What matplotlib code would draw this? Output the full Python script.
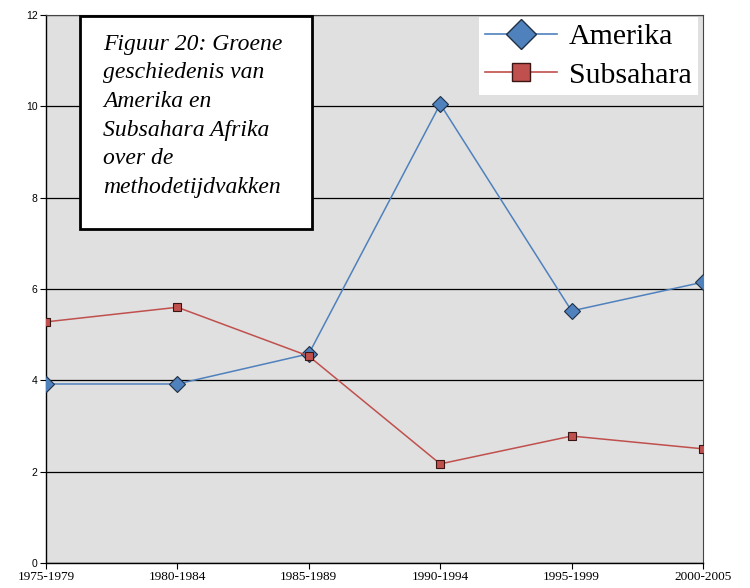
import matplotlib.pyplot as plt
from matplotlib.lines import Line2D
from matplotlib.patches import Rectangle

periods = ["1975-1979", "1980-1984", "1985-1989", "1990-1994", "1995-1999", "2000-2005"]
amerika = [3.92, 3.92, 4.58, 10.05, 5.52, 6.15]
subsahara = [5.28, 5.6, 4.53, 2.17, 2.78, 2.5]
y_ticks = [0, 2, 4, 6, 8, 10, 12]

BLUE = "#4f81bd"
RED = "#c0504d"
SERIF = ["Liberation Serif", "DejaVu Serif"]

fig = plt.figure(figsize=(7.5, 5.88), dpi=100)
ax = fig.add_axes([46 / 750, 25 / 588, 657 / 750, 548 / 588])
ax.set_facecolor("#e0e0e0")

x = list(range(len(periods)))
ax.plot(x, amerika, color=BLUE, linewidth=1.1, marker="D", markersize=8,
        markerfacecolor=BLUE, markeredgecolor="#1f2f45", markeredgewidth=0.8, zorder=3)
ax.plot(x, subsahara, color=RED, linewidth=1.1, marker="s", markersize=6.3,
        markerfacecolor=RED, markeredgecolor="#3a1514", markeredgewidth=0.8, zorder=3)

ax.set_xlim(0, len(periods) - 1)
ax.set_ylim(0, 12)
ax.set_yticks(y_ticks)
ax.set_yticklabels([str(v) for v in y_ticks], fontsize=7.5, family="Liberation Sans")
ax.set_xticks(x)
ax.set_xticklabels(periods, fontsize=9.5, family=SERIF)
ax.tick_params(axis="both", direction="out", length=4, width=0.8, pad=2)
ax.yaxis.grid(True, color="black", linewidth=0.9)
ax.set_axisbelow(True)
for side in ["top", "right"]:
    ax.spines[side].set_color("#444444")
    ax.spines[side].set_linewidth(0.8)
for side in ["left", "bottom"]:
    ax.spines[side].set_color("black")
    ax.spines[side].set_linewidth(1.0)

# titel in kader linksboven
ax.add_patch(Rectangle((0.052, 0.609), 0.353, 0.389, transform=ax.transAxes,
                       facecolor="white", edgecolor="black", linewidth=2, zorder=5,
                       clip_on=False))
ax.text(0.087, 0.966,
        "Figuur 20: Groene\ngeschiedenis van\nAmerika en\nSubsahara Afrika\nover de\nmethodetijdvakken",
        transform=ax.transAxes, ha="left", va="top", fontsize=17, style="italic",
        family=SERIF, linespacing=1.48, zorder=6)

handles = [
    Line2D([0], [0], color=BLUE, linewidth=1.2, marker="D", markersize=15,
           markerfacecolor=BLUE, markeredgecolor="#1f2f45", label="Amerika"),
    Line2D([0], [0], color=RED, linewidth=1.2, marker="s", markersize=13,
           markerfacecolor=RED, markeredgecolor="#3a1514", label="Subsahara"),
]
leg = ax.legend(handles=handles, loc="upper right", bbox_to_anchor=(0.992, 0.996),
                prop={"family": SERIF, "size": 21.5}, frameon=True, fancybox=False,
                handlelength=2.4, borderpad=0.2, labelspacing=0.4, handletextpad=0.4,
                borderaxespad=0.0)
leg.get_frame().set_facecolor("white")
leg.get_frame().set_edgecolor("none")
leg.get_frame().set_alpha(1)

fig.savefig("out.png", dpi=100)
